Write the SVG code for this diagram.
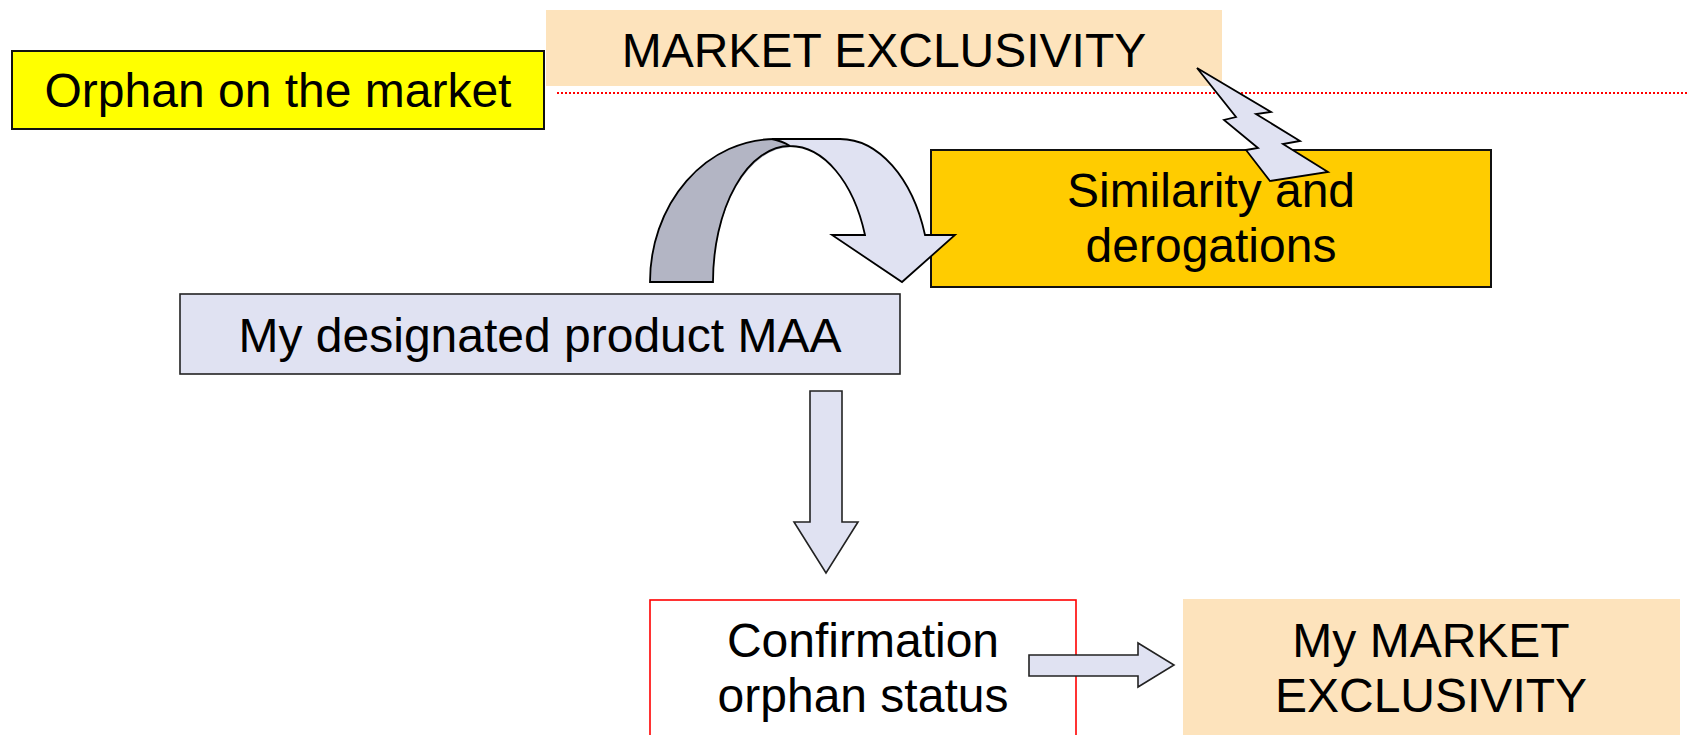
<svg xmlns="http://www.w3.org/2000/svg" width="1689" height="735" viewBox="0 0 1689 735">
  <style>
    .lbl { font-family: "Liberation Sans", Arial, sans-serif; font-size: 48px; fill: #000; text-anchor: middle; }
    .box { stroke: #111; stroke-width: 2; }
    .shape { stroke: #000; stroke-width: 1.8; stroke-linejoin: miter; }
    .light { fill: #E0E2F2; }
    .shade { fill: #B3B5C4; }
  </style>

  <rect width="1689" height="735" fill="#ffffff"/>

  <!-- dotted separator -->
  <line x1="557" y1="93" x2="1689" y2="93" stroke="#ff0000" stroke-width="2" stroke-dasharray="2,2"/>

  <g id="node-market-exclusivity">
    <rect x="546" y="10" width="676" height="76" fill="#FDE3BC"/>
    <text class="lbl" x="884" y="67">MARKET EXCLUSIVITY</text>
  </g>

  <g id="node-orphan-market">
    <rect class="box" x="12" y="51" width="532" height="78" fill="#FFFF00"/>
    <text class="lbl" x="278" y="107">Orphan on the market</text>
  </g>

  <g id="node-similarity">
    <rect class="box" x="931" y="150" width="560" height="137" fill="#FFCC00"/>
    <text class="lbl" x="1211" y="207">Similarity and</text>
    <text class="lbl" x="1211" y="262">derogations</text>
  </g>

  <g id="node-designated-maa">
    <rect x="180" y="294" width="720" height="80" fill="#E0E2F2" stroke="#222" stroke-width="1.6"/>
    <text class="lbl" x="540" y="352">My designated product MAA</text>
  </g>

  <g id="node-confirmation">
    <rect x="650" y="600" width="426" height="140" fill="#ffffff" stroke="#ff0000" stroke-width="1.6"/>
    <text class="lbl" x="863" y="657">Confirmation</text>
    <text class="lbl" x="863" y="712">orphan status</text>
  </g>

  <g id="node-my-exclusivity">
    <rect x="1183" y="599" width="497" height="136" fill="#FDE3BC"/>
    <text class="lbl" x="1431" y="657">My MARKET</text>
    <text class="lbl" x="1431" y="712">EXCLUSIVITY</text>
  </g>

  <g id="connectors">
    <!-- curved arrow: back band (fill, then outline without the seam) -->
    <path class="shade" d="M 650,282 A 125,143 0 0 1 775,139 L 792,147 A 79,136 0 0 0 713,282 Z"/>
    <path fill="none" stroke="#000" stroke-width="1.8" d="M 790,146 A 77,136 0 0 0 713,282 L 650,282 A 125,143 0 0 1 775,139"/>
    <!-- curved arrow: front band with head -->
    <path class="shape light" d="M 772,139 L 840,139 A 90,143 0 0 1 925,235 L 955,235 L 902,282 L 832,235 L 865,235 A 80,136 0 0 0 790,146 Q 782,141 772,139 Z"/>

    <!-- lightning bolt -->
    <path class="shape light" d="M 1197,68 L 1271,112 L 1256,114 L 1300,141 L 1283,144 L 1328,172 L 1270,181 L 1246,150 L 1258,148 L 1224,120 L 1236,117 Z"/>

    <!-- block arrow down -->
    <path class="light" stroke="#222" stroke-width="1.6" d="M 810,391 L 842,391 L 842,522 L 858,522 L 826,573 L 794,522 L 810,522 Z"/>

    <!-- block arrow right -->
    <path class="light" stroke="#222" stroke-width="1.6" d="M 1029,655 L 1138,655 L 1138,643 L 1174,665 L 1138,687 L 1138,676 L 1029,676 Z"/>
  </g>
</svg>
